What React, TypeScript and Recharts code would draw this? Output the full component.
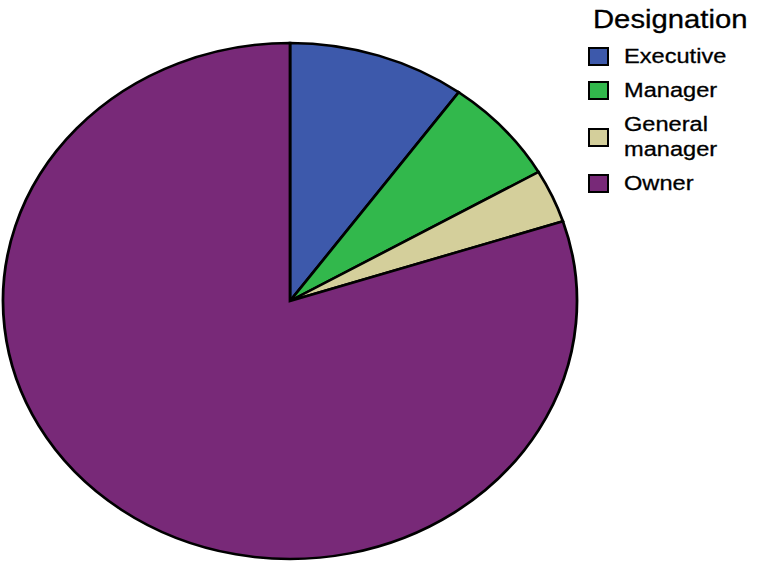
import { PieChart, Pie, Cell } from "recharts";

const categories = ["Executive", "Manager", "General manager", "Owner"];
const counts = [3, 2, 1, 24];
const colors = ["#3d59ab", "#32b84c", "#d4cf9b", "#782978"];
const legendTitle = "Designation";

const data = categories.map((name, i) => ({ name, value: counts[i] }));

// the original pie is an ellipse, so the circle is stretched sideways
const STRETCH = 287 / 258;

export default function App() {
  return (
    <div
      style={{
        position: "absolute",
        left: 0,
        top: 0,
        width: 757,
        height: 574,
        background: "#fff",
        overflow: "hidden",
        fontFamily: "'Liberation Sans', Arial, sans-serif",
        WebkitTextStroke: "0.3px #000",
      }}
    >
      <div
        style={{
          position: "absolute",
          left: 2.5,
          top: 0,
          transform: `scaleX(${STRETCH})`,
          transformOrigin: "287px 0",
        }}
      >
        <PieChart width={574} height={574} margin={{ top: 0, right: 0, bottom: 0, left: 0 }}>
          <Pie
            data={data}
            dataKey="value"
            nameKey="name"
            cx={287}
            cy={301}
            outerRadius={258}
            startAngle={90}
            endAngle={-270}
            stroke="#000"
            strokeWidth={2.5}
            isAnimationActive={false}
          >
            {data.map((d, i) => (
              <Cell key={d.name} fill={colors[i]} />
            ))}
          </Pie>
        </PieChart>
      </div>

      {/* legend */}
      <div
        style={{
          position: "absolute",
          left: 593,
          top: 7,
          fontSize: 25,
          lineHeight: "25px",
          color: "#000",
          transform: "scaleX(1.17)",
          transformOrigin: "0 0",
          whiteSpace: "nowrap",
        }}
      >
        {legendTitle}
      </div>
      <div
        style={{
          position: "absolute",
          left: 588,
          top: 44,
          display: "flex",
          flexDirection: "column",
          gap: 9,
        }}
      >
        {categories.map((name, i) => (
          <div key={name} style={{ display: "flex", alignItems: "center" }}>
            <div
              style={{
                width: 17,
                height: 15,
                background: colors[i],
                border: "2.5px solid #000",
                flexShrink: 0,
              }}
            />
            <div
              style={{
                marginLeft: 15,
                fontSize: 20,
                lineHeight: "25px",
                width: 80,
                transform: "scaleX(1.18)",
                transformOrigin: "0 0",
              }}
            >
              {name}
            </div>
          </div>
        ))}
      </div>
    </div>
  );
}
